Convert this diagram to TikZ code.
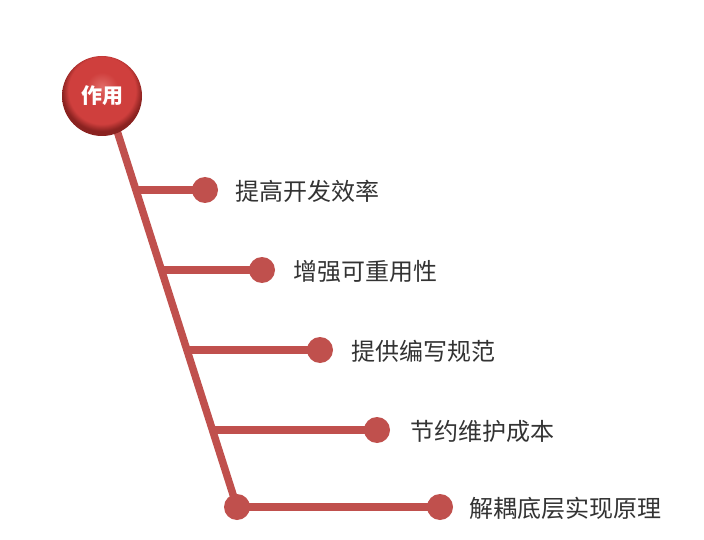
\documentclass[tikz,border=0pt]{standalone}
\usepackage{fontspec}
\newfontfamily\cjk{Noto Sans CJK SC}
\definecolor{branchred}{HTML}{C0504D}
\definecolor{labelgray}{HTML}{333333}
\definecolor{ballhi}{HTML}{E06A66}
\definecolor{ballmid}{HTML}{CF3F3D}
\definecolor{ballrim}{HTML}{A82E2C}
\definecolor{balledge}{HTML}{8A2220}
\pgfdeclareradialshading{redball}{\pgfpoint{0bp}{6bp}}{%
  color(0bp)=(ballhi);
  color(10bp)=(ballmid);
  color(21bp)=(ballmid);
  color(25bp)=(balledge);
  color(50bp)=(balledge)}
\begin{document}
\begin{tikzpicture}[x=1pt,y=-1pt,
  stem/.style={draw=branchred,line width=7.5pt,line cap=round},
  dotnode/.style={circle,fill=branchred,minimum size=26pt,inner sep=0pt},
  lbl/.style={anchor=west,text=labelgray,font=\cjk\fontsize{24}{24}\selectfont,inner sep=0pt},
  root/.style={circle,minimum size=80pt,inner sep=0pt,shading=redball,text=white,font=\cjk\bfseries\fontsize{21}{21}\selectfont}]
\useasboundingbox (0,0) rectangle (704,540);
% main stem
\coordinate (top) at (112,115);
\coordinate (b1) at (138,190);
\coordinate (b2) at (163,270);
\coordinate (b3) at (188,350);
\coordinate (b4) at (213,430);
\node[dotnode] (d5a) at (237,507) {};
\draw[stem] (top) -- (d5a.center);
% branches
\node[dotnode] (d1) at (205,190) {};
\node[dotnode] (d2) at (262,270) {};
\node[dotnode] (d3) at (320,350) {};
\node[dotnode] (d4) at (377,430) {};
\node[dotnode] (d5) at (440,507) {};
\draw[stem,line cap=butt] (b1) -- (d1.center);
\draw[stem,line cap=butt] (b2) -- (d2.center);
\draw[stem,line cap=butt] (b3) -- (d3.center);
\draw[stem,line cap=butt] (b4) -- (d4.center);
\draw[stem,line cap=butt] (d5a.center) -- (d5.center);
\node[root] (r) at (102,96) {作用};
\node[lbl] (t1) at (235,191) {提高开发效率};
\node[lbl] (t2) at (293,271) {增强可重用性};
\node[lbl] (t3) at (351,351) {提供编写规范};
\node[lbl] (t4) at (410,431) {节约维护成本};
\node[lbl] (t5) at (469,508) {解耦底层实现原理};
\end{tikzpicture}
\end{document}
